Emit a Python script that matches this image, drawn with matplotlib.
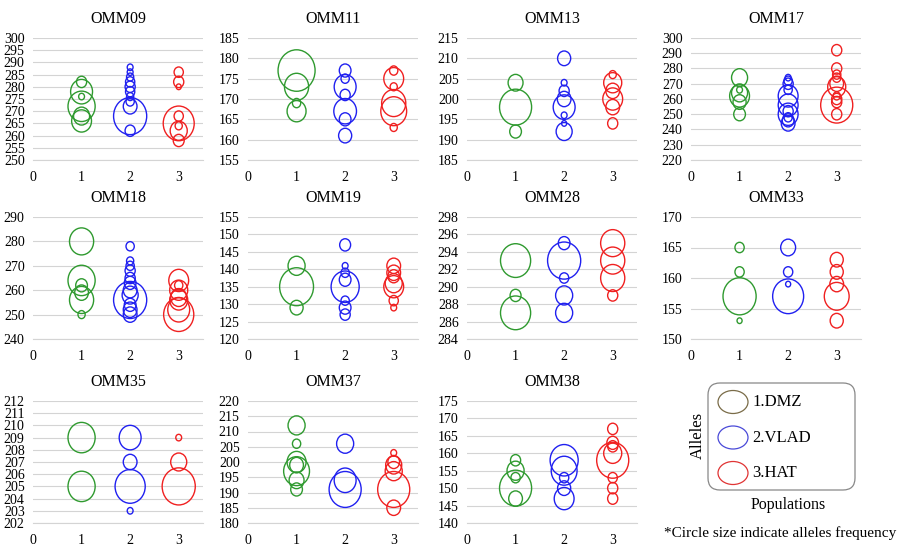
import numpy as np
import matplotlib.pyplot as plt
from matplotlib.path import Path
from matplotlib.patches import FancyBboxPatch, Ellipse

# allele sizes and frequencies per locus, one list per population (DMZ, VLAD, HAT)
loci = ['OMM09', 'OMM11', 'OMM13', 'OMM17', 'OMM18', 'OMM19',
        'OMM28', 'OMM33', 'OMM35', 'OMM37', 'OMM38']

omm09_alleles = [[282, 278, 276, 272, 268, 266],
                 [288, 286, 284, 282, 280, 278, 276, 274, 272, 268, 262],
                 [286, 282, 280, 268, 265, 264, 262, 258]]
omm09_freq = [[0.06, 0.28, 0.02, 0.43, 0.15, 0.23],
              [0.02, 0.02, 0.03, 0.05, 0.06, 0.05, 0.03, 0.04, 0.11, 0.64, 0.06],
              [0.05, 0.06, 0.015, 0.05, 0.56, 0.03, 0.17, 0.07]]

omm11_alleles = [[177, 173, 169, 167],
                 [177, 175, 173, 171, 167, 165, 161],
                 [177, 175, 173, 169, 167, 163]]
omm11_freq = [[0.80, 0.34, 0.04, 0.21],
              [0.08, 0.04, 0.28, 0.06, 0.30, 0.08, 0.10],
              [0.04, 0.23, 0.03, 0.34, 0.39, 0.03]]

omm13_alleles = [[204, 198, 192],
                 [210, 204, 202, 200, 198, 196, 194, 192],
                 [206, 204, 202, 200, 198, 194]]
omm13_freq = [[0.13, 0.60, 0.08],
              [0.10, 0.02, 0.06, 0.11, 0.28, 0.02, 0.015, 0.15],
              [0.03, 0.19, 0.11, 0.23, 0.11, 0.06]]

omm17_alleles = [[274, 266, 264, 262, 258, 250],
                 [274, 272, 270, 266, 262, 256, 252, 250, 248, 246, 244],
                 [292, 280, 276, 274, 270, 268, 262, 260, 258, 256, 250]]
omm17_freq = [[0.15, 0.02, 0.15, 0.23, 0.10, 0.08],
              [0.02, 0.04, 0.06, 0.04, 0.23, 0.23, 0.06, 0.23, 0.04, 0.08, 0.11],
              [0.06, 0.06, 0.04, 0.04, 0.11, 0.19, 0.03, 0.06, 0.06, 0.60, 0.06]]

omm18_alleles = [[280, 264, 262, 259, 256, 250],
                 [278, 272, 270, 268, 265, 263, 260, 258, 256, 254, 252, 250],
                 [264, 262, 260, 257, 256, 252, 250]]
omm18_freq = [[0.34, 0.43, 0.08, 0.11, 0.34, 0.03],
              [0.04, 0.03, 0.04, 0.06, 0.06, 0.08, 0.11, 0.15, 0.64, 0.08, 0.11, 0.11],
              [0.23, 0.04, 0.19, 0.15, 0.19, 0.28, 0.53]]

omm19_alleles = [[141, 135, 129],
                 [147, 141, 139, 137, 135, 131, 129, 127],
                 [141, 139, 138, 136, 135, 131, 129]]
omm19_freq = [[0.17, 0.67, 0.10],
              [0.07, 0.02, 0.04, 0.08, 0.46, 0.04, 0.08, 0.06],
              [0.11, 0.11, 0.08, 0.17, 0.23, 0.05, 0.02]]

omm28_alleles = [[293, 289, 287],
                 [295, 293, 291, 289, 287],
                 [295, 293, 291, 289]]
omm28_freq = [[0.53, 0.07, 0.53],
              [0.08, 0.64, 0.05, 0.17, 0.17],
              [0.34, 0.34, 0.34, 0.06]]

omm33_alleles = [[165, 161, 157, 153],
                 [165, 161, 159, 157],
                 [163, 161, 159, 157, 153]]
omm33_freq = [[0.05, 0.05, 0.64, 0.015],
              [0.13, 0.05, 0.015, 0.56],
              [0.10, 0.10, 0.11, 0.36, 0.10]]

omm35_alleles = [[209, 205],
                 [209, 207, 205, 203],
                 [209, 207, 205]]
omm35_freq = [[0.43, 0.43],
              [0.28, 0.11, 0.53, 0.02],
              [0.02, 0.15, 0.64]]

omm37_alleles = [[212, 206, 200, 199, 197, 194, 191],
                 [206, 194, 191],
                 [203, 200, 199, 197, 191, 185]]
omm37_freq = [[0.17, 0.04, 0.21, 0.11, 0.39, 0.13, 0.08],
              [0.17, 0.28, 0.60],
              [0.02, 0.08, 0.15, 0.17, 0.60, 0.11]]

omm38_alleles = [[158, 155, 153, 150, 147],
                 [158, 155, 153, 150, 147],
                 [167, 163, 162, 160, 158, 153, 150, 147]]
omm38_freq = [[0.06, 0.17, 0.05, 0.60, 0.11],
              [0.46, 0.39, 0.05, 0.10, 0.23],
              [0.06, 0.08, 0.06, 0.19, 0.60, 0.05, 0.06, 0.06]]

# y axis (min, max, step) per locus
y_ranges = [(250, 300, 5), (155, 185, 5), (185, 215, 5), (220, 300, 10),
            (240, 290, 10), (120, 155, 5), (284, 298, 2), (150, 170, 5),
            (202, 212, 1), (180, 220, 5), (140, 175, 5)]

populations = ['1.DMZ', '2.VLAD', '3.HAT']

all_alleles = [omm09_alleles, omm11_alleles, omm13_alleles, omm17_alleles,
               omm18_alleles, omm19_alleles, omm28_alleles, omm33_alleles,
               omm35_alleles, omm37_alleles, omm38_alleles]
all_freq = [omm09_freq, omm11_freq, omm13_freq, omm17_freq, omm18_freq,
            omm19_freq, omm28_freq, omm33_freq, omm35_freq, omm37_freq,
            omm38_freq]

colors = ['#2f9a2f', '#2020f0', '#f02020']

plt.rcParams['font.family'] = ['Liberation Serif', 'DejaVu Serif']

W, H = 910, 552
fig = plt.figure(figsize=(W / 100, H / 100), dpi=100)

col_x = [33, 248, 467, 691]
row_y = [38, 217, 401]
aw, ah = 170, 122

# bubbles are a bit taller than wide in the original
circ = Path.unit_circle()
oval = Path(circ.vertices * np.array([1 / 1.12, 1.0]), circ.codes)
bubble_px = 41.4  # diameter in px for frequency 1.0

for i, name in enumerate(loci):
    r, c = divmod(i, 4)
    ax = fig.add_axes([col_x[c] / W, 1 - (row_y[r] + ah) / H, aw / W, ah / H])
    lo, hi, step = y_ranges[i]
    for p in range(3):
        al = np.array(all_alleles[i][p])
        fr = np.array(all_freq[i][p])
        d_pt = bubble_px * np.sqrt(fr) * 1.12 * 0.72
        ax.scatter(np.full(len(al), p + 1), al, s=d_pt ** 2, marker=oval,
                   facecolors='none', edgecolors=colors[p], linewidths=1.0,
                   clip_on=False, zorder=3)
    ax.set_xlim(0, 3.5)
    ax.set_ylim(lo, hi)
    ax.set_xticks([0, 1, 2, 3])
    ax.set_yticks(np.arange(lo, hi + step / 2, step))
    ax.grid(axis='y', color='#d4d4d4', linewidth=0.8)
    ax.set_axisbelow(True)
    for s in ['top', 'right', 'left']:
        ax.spines[s].set_visible(False)
    ax.spines['bottom'].set_color('#d4d4d4')
    ax.tick_params(axis='both', length=0, labelsize=10)
    ax.tick_params(axis='x', pad=8)
    ax.tick_params(axis='y', pad=6)
    ax.set_title(name, fontsize=11.5, pad=11)

# legend drawn in pixel coordinates
lax = fig.add_axes([0, 0, 1, 1])
lax.set_xlim(0, W)
lax.set_ylim(H, 0)
lax.axis('off')
lax.add_patch(FancyBboxPatch((708, 383), 147, 107,
                             boxstyle='round,pad=0,rounding_size=12',
                             fc='none', ec='#888888', lw=0.9))
leg_colors = ['#7a6c48', '#4a4ad8', '#e03434']
for k, lab in enumerate(populations):
    yy = 402 + k * 35.5
    lax.add_patch(Ellipse((733, yy), 30, 23, fc='none', ec=leg_colors[k], lw=0.9))
    lax.text(752, yy, lab, fontsize=12, va='center', ha='left')
lax.text(698, 435, 'Alleles', fontsize=12, rotation=90, va='center', ha='center')
lax.text(788, 505, 'Populations', fontsize=11.5, va='center', ha='center')
lax.text(780, 533, '*Circle size indicate alleles frequency', fontsize=11,
         va='center', ha='center')

fig.savefig('out.png', dpi=100)
